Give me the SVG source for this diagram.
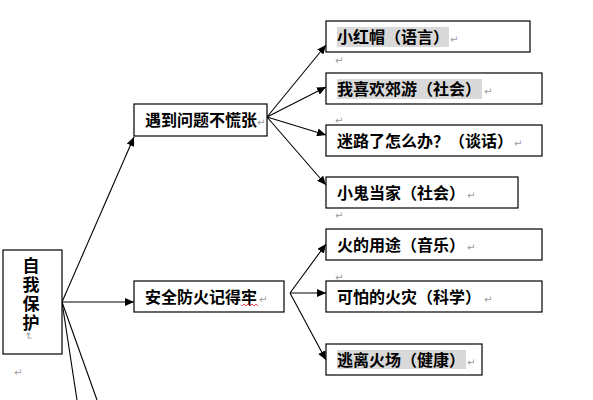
<svg xmlns="http://www.w3.org/2000/svg" width="593" height="400" viewBox="0 0 593 400">
<defs>
<marker id="ah" markerUnits="userSpaceOnUse" markerWidth="10" markerHeight="8" refX="9" refY="4" orient="auto">
<path d="M0,0 L9,4 L0,8 Z" fill="#000"/>
</marker>
<style>
.box{fill:#fff;stroke:#000;stroke-width:1.2}
.t{font-family:"Noto Sans CJK SC","Liberation Sans",sans-serif;font-size:16px;font-weight:bold;fill:#000}
.v{font-family:"Noto Sans CJK SC","Liberation Sans",sans-serif;font-size:17px;font-weight:bold;fill:#000;writing-mode:vertical-rl;letter-spacing:2px}
.hl{fill:#d9d9d9}
.pm{font-family:"DejaVu Sans",sans-serif;font-size:10px;fill:#999}
.c{stroke:#000;stroke-width:1.1;fill:none}
</style>
</defs>
<rect width="593" height="400" fill="#fff"/>
<g id="connectors">
<line class="c" x1="62" y1="302" x2="134" y2="137" marker-end="url(#ah)"/>
<line class="c" x1="62" y1="302" x2="134" y2="302" marker-end="url(#ah)"/>
<line class="c" x1="62" y1="302" x2="77" y2="400"/>
<line class="c" x1="62" y1="302" x2="97" y2="400"/>
<line class="c" x1="267" y1="117" x2="326" y2="45" marker-end="url(#ah)"/>
<line class="c" x1="267" y1="117" x2="326" y2="87" marker-end="url(#ah)"/>
<line class="c" x1="267" y1="117" x2="326" y2="135" marker-end="url(#ah)"/>
<line class="c" x1="267" y1="117" x2="326" y2="185" marker-end="url(#ah)"/>
<line class="c" x1="290" y1="293" x2="326" y2="244" marker-end="url(#ah)"/>
<line class="c" x1="290" y1="293" x2="326" y2="293" marker-end="url(#ah)"/>
<line class="c" x1="290" y1="293" x2="326" y2="360" marker-end="url(#ah)"/>
</g>
<g id="root">
<rect class="box" x="3" y="250" width="59" height="104"/>
<text class="v" x="31" y="257">自我保护</text>
<text class="pm" x="28" y="339" text-anchor="middle" transform="rotate(90 28 336)">↵</text>
<text class="pm" x="14" y="376">↵</text>
</g>
<g id="n-problem">
<rect class="box" x="134" y="104" width="133" height="32"/>
<text class="t" x="145" y="126">遇到问题不慌张</text>
<text class="pm" x="257" y="126">↵</text>
</g>
<g id="n-fire">
<rect class="box" x="134" y="281" width="150" height="31"/>
<text class="t" x="145" y="303">安全防火记得牢</text>
<path d="M242,306 l2,-2 l2,2 l2,-2 l2,2 l2,-2 l2,2 l2,-2 l2,2" fill="none" stroke="#d33" stroke-width="0.9"/>
<text class="pm" x="259" y="303">↵</text>
</g>
<g id="n-hongmao">
<rect class="box" x="326" y="21" width="204" height="31"/>
<rect class="hl" x="337" y="27" width="112" height="20"/>
<text class="t" x="337" y="43">小红帽（语言）</text>
<text class="pm" x="450" y="43">↵</text>
<text class="pm" x="335" y="64">↵</text>
</g>
<g id="n-jiaoyou">
<rect class="box" x="326" y="73" width="216" height="31"/>
<rect class="hl" x="337" y="79" width="145" height="20"/>
<text class="t" x="337" y="95">我喜欢郊游（社会）</text>
<text class="pm" x="484" y="95">↵</text>
<text class="pm" x="335" y="124">↵</text>
</g>
<g id="n-milu">
<rect class="box" x="326" y="125" width="216" height="31"/>
<text class="t" x="337" y="147">迷路了怎么办？（谈话）</text>
<text class="pm" x="514" y="147">↵</text>
</g>
<g id="n-xiaogui">
<rect class="box" x="326" y="177" width="192" height="31"/>
<text class="t" x="337" y="199">小鬼当家（社会）</text>
<text class="pm" x="467" y="199">↵</text>
<text class="pm" x="335" y="219">↵</text>
</g>
<g id="n-yongtu">
<rect class="box" x="326" y="229" width="216" height="31"/>
<text class="t" x="337" y="251">火的用途（音乐）</text>
<text class="pm" x="467" y="251">↵</text>
<text class="pm" x="335" y="281">↵</text>
</g>
<g id="n-huozai">
<rect class="box" x="326" y="281" width="216" height="31"/>
<text class="t" x="337" y="303">可怕的火灾（科学）</text>
<text class="pm" x="484" y="303">↵</text>
</g>
<g id="n-taoli">
<rect class="box" x="326" y="344" width="156" height="31"/>
<rect class="hl" x="337" y="350" width="129" height="19"/>
<text class="t" x="337" y="366">逃离火场（健康）</text>
<text class="pm" x="467" y="366">↵</text>
</g>
</svg>
